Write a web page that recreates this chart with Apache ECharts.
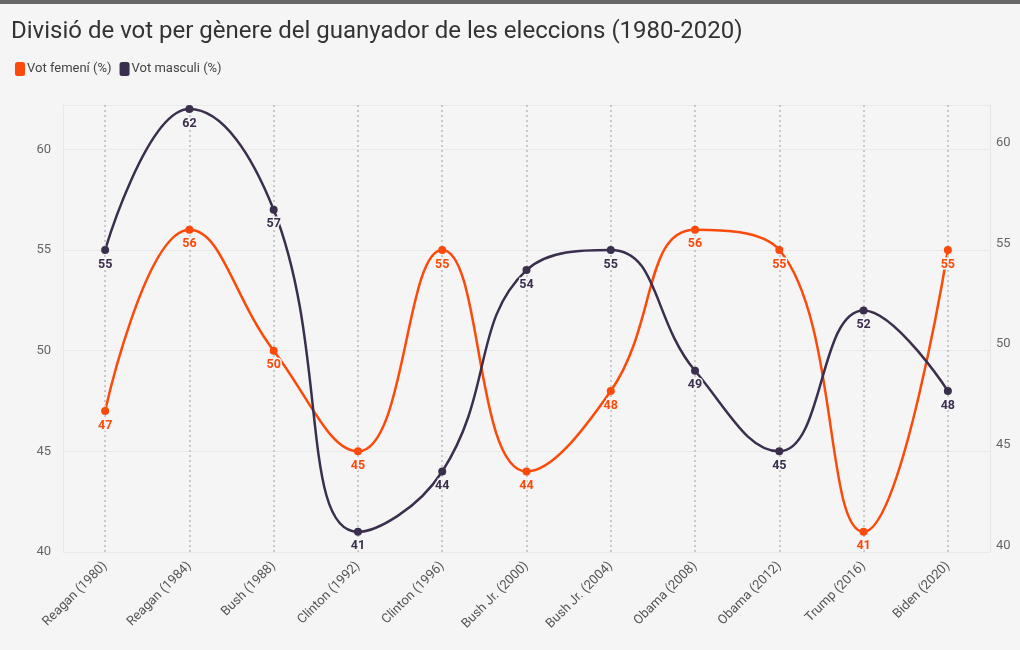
<!DOCTYPE html>
<html><head><meta charset="utf-8">
<script src="https://cdn.jsdelivr.net/npm/echarts@6/dist/echarts.min.js"></script>
<style>html,body{margin:0;padding:0;background:#f5f5f5;}#top{height:4px;background:#666;}#c{width:1020px;height:646px;}</style>
</head><body><div id="top"></div><div id="c"></div>
<script>
var categories = ['Reagan (1980)','Reagan (1984)','Bush (1988)','Clinton (1992)','Clinton (1996)','Bush Jr. (2000)','Bush Jr. (2004)','Obama (2008)','Obama (2012)','Trump (2016)','Biden (2020)'];
var femeni = [47, 56, 50, 45, 55, 44, 48, 56, 55, 41, 55];
var masculi = [55, 62, 57, 41, 44, 54, 55, 49, 45, 52, 48];
var yTicks = [40, 45, 50, 55, 60];

var FONT = 'Roboto';
var ORANGE = '#fb4a0a';
var DARK = '#3b2f4e';
var chart = echarts.init(document.getElementById('c'));
function lbl(color){
  return {show:true, position:'bottom', distance:4, color:color, fontWeight:'bold', fontSize:12.5, fontFamily:FONT,
    textBorderColor:'#f5f5f5', textBorderWidth:3};
}
var yAx = function(side){
  return {type:'value', position:side, min:40, max:62.2, interval:5,
    axisLine:{show:true, lineStyle:{color:'#e8e8e8'}}, axisTick:{show:false},
    splitLine:{show:side==='left', lineStyle:{color:'#e9e9e9'}},
    axisLabel:{color:'#666', fontSize:13, fontFamily:FONT, margin: side==='left'?12:6,
      verticalAlign: side==='left'?'middle':'bottom',
      formatter:function(v){return yTicks.indexOf(v)>=0? String(v):'';}}};
};
function dots(name, data, color){
  return {name:name, type:'scatter', data:data, symbol:'circle', symbolSize:8, z:6,
    itemStyle:{color:color, opacity:1}, label:lbl(color), silent:true};
}
chart.setOption({
  backgroundColor:'#f5f5f5',
  animation:false,
  title:{text:'Divisió de vot per gènere del guanyador de les eleccions (1980-2020)', left:6, top:11,
    textStyle:{color:'#333', fontSize:24, fontWeight:'normal', fontFamily:FONT}},
  legend:{left:10, top:53, itemWidth:10, itemHeight:14, itemGap:8, icon:'roundRect',
    textStyle:{color:'#444', fontSize:13, fontFamily:FONT, padding:[0,0,0,-3]},
    data:['Vot femení (%)','Vot masculi (%)']},
  grid:{left:63, right:30, top:101, bottom:98, containLabel:false},
  xAxis:{type:'category', data:categories, boundaryGap:true,
    axisLine:{show:false}, axisTick:{show:false}, splitLine:{show:false},
    axisLabel:{rotate:45, color:'#555', fontSize:13, fontFamily:FONT, margin:12, interval:0}},
  yAxis:[yAx('left'), yAx('right')],
  series:[
    {name:'Vot femení (%)', type:'line', data:femeni, smooth:0.45, color:ORANGE,
      lineStyle:{width:2.5, color:ORANGE}, itemStyle:{color:ORANGE},
      showSymbol:false, symbol:'circle', z:3,
      markLine:{silent:true, symbol:'none', label:{show:false},
        lineStyle:{color:'#c8c8c8', type:[2,3], width:2},
        data: categories.map(function(c){return {xAxis:c};})}},
    {name:'Vot masculi (%)', type:'line', data:masculi, smooth:0.45, color:DARK,
      lineStyle:{width:2.5, color:DARK}, itemStyle:{color:DARK},
      showSymbol:false, symbol:'circle', z:4},
    dots('Vot femení (%)', femeni, ORANGE),
    dots('Vot masculi (%)', masculi, DARK)
  ]
});
</script></body></html>
